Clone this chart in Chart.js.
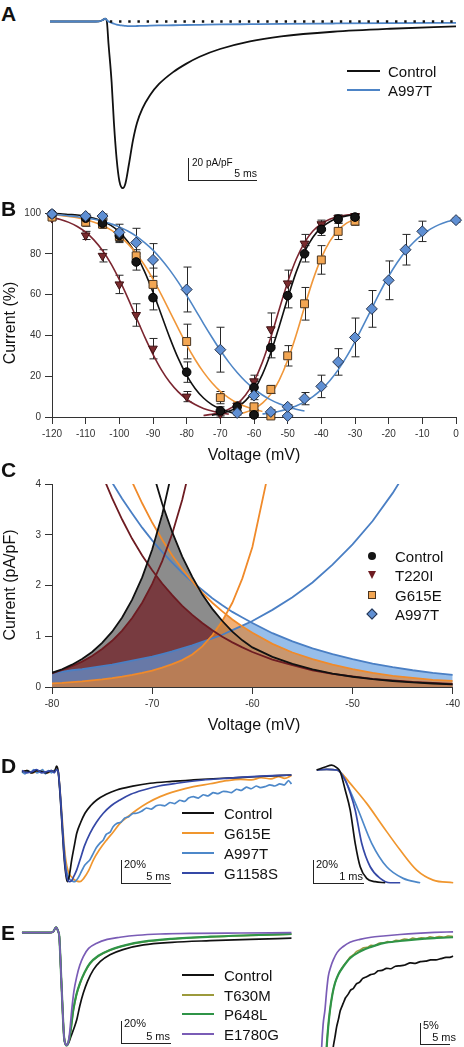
<!DOCTYPE html>
<html>
<head>
<meta charset="utf-8">
<script src="https://cdn.jsdelivr.net/npm/chart.js@4.4.1/dist/chart.umd.min.js"></script>
<style>
  body { margin: 0; background: #fff; }
  #fig { position: relative; width: 464px; height: 1047px; overflow: hidden; font-family: 'Liberation Sans', Arial, sans-serif; color: #111; }
  #fig canvas { position: absolute; }
  .t { position: absolute; white-space: nowrap; line-height: 1; }
  .lc { transform: translateY(-50%); }
  .rc { transform: translate(-100%, -50%); }
  .mid { transform: translate(-50%, -50%); }
  .rot { transform: translate(-50%, -50%) rotate(-90deg); }
  .sb { position: absolute; border-left: 1px solid #222; border-bottom: 1px solid #222; }
  .ln { position: absolute; height: 2px; }
  .mk { position: absolute; }
</style>
</head>
<body>
<div id="fig">
  <canvas id="cA"></canvas>
  <canvas id="cB"></canvas>
  <canvas id="cC"></canvas>
  <canvas id="cD1"></canvas>
  <canvas id="cD2"></canvas>
  <canvas id="cE1"></canvas>
  <canvas id="cE2"></canvas>
</div>
<script>
// ---------- A: current traces (ms, pA/pF) ----------
const tA    = [0,1,2,3,3.6,3.9,4.05,4.17,4.3,4.53,4.7,4.9,5.1,5.35,5.55,5.8,6.1,6.4,6.8,7.35,8,9.05,10,11,12.5,14.7,17,20.8,25,29.85];
const ctlA  = [0,0,0,0,0.2,1.5,2.6,1,-20,-55,-92,-125,-145,-151.5,-147,-130,-108,-92,-79,-67,-57,-46,-38.5,-32,-25,-18,-13.5,-9.3,-6.6,-4.5];
const a9A   = [0,0,0,0,0.2,1.5,2.6,1.5,0,-1.2,-2,-2.8,-3.3,-3.7,-4,-4.2,-4.2,-4.1,-4.0,-3.8,-3.6,-3.4,-3.2,-3,-2.7,-2.4,-2.1,-1.8,-1.5,-1.2];
const zeroA = [4.4, 29.85];

// ---------- B: steady-state inactivation / activation (mV, %) ----------
const ctlV = [-120,-110,-105,-100,-95,-90,-80,-70,-60,-65,-60,-55,-50,-45,-40,-35,-30];
const ctlI = [99.5,97.5,95,89,76,58.5,22,3,1,5,14.5,34,59.5,80,92,97,98];
const ctlE = [0,1.5,2,3,4,6,5,2,1,2,3,5,6,4,3,2,1.5];
const t2V  = [-120,-110,-105,-100,-95,-90,-80,-70,-65,-60,-55,-50,-45,-40,-35,-30];
const t2I  = [97.5,89,79,65,50,33.5,10,1.5,5.5,17.5,43,65.5,85,94.5,97.5,98.5];
const t2E  = [1,2,3,4.5,5.5,5,2.5,1,2,3,8,6.5,4.5,2,1.5,1];
const g6V  = [-120,-110,-105,-100,-95,-90,-80,-70,-60,-55,-60,-55,-50,-45,-40,-35,-30];
const g6I  = [98,95.5,94.5,88.5,79,65,37,9.5,2,0.5,5,13.5,30,55.5,77,91,96];
const g6E  = [1,2,2,3,3,8,8.5,3,1,1,1.5,2,5,8,7,4,2];
const a9V  = [-120,-110,-105,-100,-95,-90,-80,-70,-65,-60,-55,-50,-50,-45,-40,-35,-30,-25,-20,-15,-10,0];
const a9I  = [99.5,98.5,98.5,90.5,85.5,77,62.5,33,2,10.5,2.5,0.5,5,9,15,27,39,53,67,82,91,96.5];
const a9E  = [0.5,1,1,4,7,8,11,11,1,2,1,0.5,1,3,5.5,6.5,9.5,9,9.5,7.5,5,1];

// fitted curves on a 2.5 mV grid, each starting at its *From voltage
const fitV = [-120,-117.5,-115,-112.5,-110,-107.5,-105,-102.5,-100,-97.5,-95,-92.5,-90,-87.5,-85,-82.5,-80,-77.5,-75,-72.5,-70,-67.5,-65,-62.5,-60,-57.5,-55,-52.5,-50,-47.5,-45,-42.5,-40,-37.5,-35,-32.5,-30,-27.5,-25,-22.5,-20,-17.5,-15,-12.5,-10,-7.5,-5,-2.5,0];
const ctlInFrom = -120,  ctlInFit  = [99.7,99.6,99.3,99.0,98.4,97.4,96.0,93.9,90.7,86.0,79.6,71.3,61.2,50.0,38.8,28.7,20.4,14.0,9.3,6.1,4.0,2.6,1.6];
const ctlActFrom = -72.5, ctlActFit = [0.93,1.61,2.78,4.7,8.0,13.1,20.9,31.5,44.5,58.2,70.9,80.9,88.1,92.8,95.7,97.5,98.6,99.2];
const t2InFrom = -120,   t2InFit   = [97.8,96.8,95.4,93.4,90.6,86.7,81.6,75.2,67.3,58.4,48.9,39.4,30.7,23.1,17.0,12.3,8.7,6.1,4.2,2.9,2.0,1.4];
const t2ActFrom = -75,   t2ActFit  = [0.75,1.3,2.2,3.8,6.5,10.8,17.4,26.9,39.1,52.8,66.1,77.2,85.5,91.2,94.7,96.9,98.2,99.0,99.4];
const g6InFrom = -120,   g6InFit   = [99.1,98.8,98.3,97.7,96.8,95.5,93.9,91.7,88.8,85.0,80.2,74.4,67.6,59.9,51.7,43.4,35.4,28.2,22.0,16.8,12.6,9.4,6.9,5.1,3.7,2.7];
const g6ActFrom = -65,   g6ActFit  = [1.35,2.3,4.0,6.8,11.2,18.1,27.8,40.1,53.9,67.1,78.0,86.1,91.5,95.0,97.0];
const a9InFrom = -120,   a9InFit   = [99.2,99.0,98.6,98.2,97.6,96.9,96.0,94.7,93.2,91.2,88.7,85.5,81.8,77.2,72.0,66.1,59.6,52.8,45.8,39.1,32.7,26.9,21.8,17.4,13.8,10.8,8.4,6.5,5.0,3.8,2.9];
const a9ActFrom = -57.5, a9ActFit  = [1.5,2.0,2.8,3.9,5.4,7.4,10.0,13.4,17.8,23.1,29.6,37.0,45.0,53.3,61.5,69.0,75.6,81.3,85.8,89.4,92.2,94.3,95.8,97.0];

// ---------- C: window currents (mV, pA/pF) ----------
const vC = [-80,-79,-78,-77,-76,-75,-74,-73,-72,-71,-70,-69,-68,-67,-66,-65,-64,-63,-62,-61,-60,-58,-56,-54,-52,-50,-48,-46,-44,-42,-40];
const N = null;
const ctlRise = [0.28,0.35,0.44,0.55,0.69,0.87,1.09,1.37,1.72,2.16,2.71,3.40,4.27,5.38,N,N,N,N,N,N,N,N,N,N,N,N,N,N,N,N,N];
const ctlFall = [N,N,N,N,N,N,N,N,N,N,4.28,3.61,3.05,2.57,2.17,1.82,1.54,1.30,1.09,0.92,0.78,0.595,0.454,0.347,0.265,0.202,0.154,0.118,0.09,0.069,0.052];
const t2Rise  = [0.27,0.335,0.41,0.50,0.61,0.75,0.91,1.11,1.36,1.66,2.03,2.48,3.02,3.69,4.51,N,N,N,N,N,N,N,N,N,N,N,N,N,N,N,N];
const t2Fall  = [N,N,N,N,4.74,4.19,3.72,3.30,2.92,2.59,2.30,2.04,1.81,1.60,1.42,1.26,1.12,0.99,0.88,0.78,0.69,0.54,0.43,0.33,0.26,0.21,0.16,0.13,0.10,0.08,0.06];
const g6Rise  = [0.07,0.08,0.095,0.11,0.13,0.15,0.175,0.205,0.24,0.28,0.325,0.38,0.45,0.53,0.64,0.80,1.02,1.30,1.66,2.14,2.76,4.6,N,N,N,N,N,N,N,N,N];
const g6Fall  = [N,N,N,N,N,N,N,4.52,4.04,3.62,3.24,2.90,2.59,2.32,2.08,1.86,1.66,1.49,1.33,1.19,1.07,0.85,0.68,0.55,0.44,0.35,0.28,0.22,0.18,0.14,0.12];
const a9Rise  = [0.28,0.30,0.33,0.35,0.38,0.41,0.44,0.48,0.52,0.56,0.60,0.65,0.70,0.76,0.82,0.89,0.96,1.03,1.12,1.21,1.30,1.52,1.77,2.06,2.41,2.81,3.27,3.82,4.45,N,N];
const a9Fall  = [N,N,N,N,4.77,4.38,4.03,3.71,3.42,3.14,2.89,2.66,2.45,2.25,2.07,1.91,1.75,1.61,1.48,1.37,1.26,1.06,0.90,0.76,0.65,0.55,0.46,0.39,0.33,0.28,0.24];
const namesC  = ['Control','T220I','G615E','A997T'];

// ---------- D: normalised currents (ms, %) ----------
const tDctl = [0.2,0.7,1.2,1.7,2.2,2.7,3.2,3.5,3.74,3.9,4.1,4.3,4.5,4.7,4.83,5.0,5.28,5.55,5.79,6.2,6.63,7.2,7.83,8.8,9.87,11.5,13.27,15.5,17.7,20.2,22.8,25.2,27.7];
const Dctl  = [0,1,-1,1,0,-1,1,0,5,0,-22,-50,-78,-95,-100,-96,-80,-67,-56,-46,-37.8,-31,-25.7,-20.5,-16.6,-13.2,-10.5,-8.8,-7.5,-6.2,-5.1,-4,-3];
const tDg11 = [0.2,0.7,1.2,1.7,2.2,2.7,3.2,3.5,3.74,3.9,4.1,4.3,4.5,4.7,4.9,5.1,5.28,5.5,5.8,6.12,6.6,7.14,7.8,8.5,9.3,10.2,11.3,12.6,14.2,16.0,18.5,21.1,24.2,27.7];
const Dg11  = [1,-1,0,2,-1,0,1,-1,2,0,-20,-48,-75,-92,-99,-100,-99,-95,-89,-80.3,-67,-56,-46,-37.8,-31,-25.7,-20.5,-16.6,-13,-10.5,-7.8,-6,-4.3,-3];
const tDg6  = [0.2,0.7,1.2,1.7,2.2,2.7,3.2,3.5,3.74,3.9,4.1,4.3,4.5,4.7,4.9,5.1,5.3,5.5,5.8,6.12,6.5,7.0,7.48,8.1,8.85,9.5,10.2,11.0,11.9,13.0,14.3,16.0,17.7,19.4,21.1,22.5,23.6,24.6,25.6,26.4,27.0,27.7];
const Dg6   = [0,1,-1,0,1,-1,0,1,2,0,-18,-42,-66,-82,-90,-94,-96,-98,-99.5,-100,-97,-90,-80.3,-71,-62,-55,-47,-41,-34.8,-28.5,-22.7,-17.5,-13.6,-11,-8.2,-7,-7.5,-5.5,-6.5,-4.5,-6,-3.5];
const tDa9  = [0.2,0.5,0.8,1.1,1.4,1.7,2.0,2.3,2.6,2.9,3.2,3.5,3.74,3.9,4.1,4.3,4.5,4.7,4.9,5.1,5.35,5.6,5.9,6.2,6.6,7.14,7.5,7.8,8.16,8.5,8.8,9.2,9.5,9.87,10.3,10.7,11.1,11.5,11.9,12.4,12.9,13.4,13.9,14.3,14.8,15.3,15.8,16.3,16.8,17.2,17.7,18.2,18.7,19.2,19.7,20.2,20.7,21.1,21.6,22.1,22.6,23.1,23.6,24.1,24.5,25.0,25.5,26.0,26.5,27.0,27.4,27.7];
const Da9   = [0,-2,1,-1,2,-1,0,2,-2,1,-1,1,2,0,-19,-45,-70,-88,-95,-98,-99.5,-100,-97,-92,-85,-80,-74,-69,-65,-62,-57,-55,-50,-47,-46,-42,-41,-38,-37.8,-36,-33,-34,-31,-30.3,-31,-28,-29,-26,-27,-24,-22.7,-24,-21,-22,-19,-20,-18,-18.2,-19,-16,-17,-14,-15.5,-13,-14.5,-13.6,-12,-13,-11,-12,-8,-11.2];
// D right: rising phase, 1 ms bar
const tD2ctl = [0,0.17,0.3,0.4,0.47,0.57,0.67,0.77,0.87,1.0,1.17,1.37];
const D2ctl  = [0,2.6,4.3,2,-1.5,-17.4,-34.8,-63.7,-84.1,-94.2,-97.1,-98];
const tD2g11 = [0,0.2,0.4,0.57,0.67,0.77,0.9,1.07,1.27,1.47,1.67];
const D2g11  = [0,0.5,0,-8.7,-20,-34.8,-63.7,-84.1,-94.2,-98,-98];
const tD2a9  = [0,0.2,0.4,0.47,0.6,0.83,1.1,1.4,1.73,2.07];
const D2a9   = [0,0.5,0,-1.5,-11.6,-34.8,-63.7,-84.1,-94.2,-98];
const tD2g6  = [0,0.2,0.4,0.5,0.67,1.0,1.33,1.67,2.0,2.33,2.73];
const D2g6   = [0,0.5,0,-2.9,-11.6,-29,-49.3,-69.6,-87,-95.7,-98];
const namesD  = ['Control','G615E','A997T','G1158S'];
const colorsD = ['#111111','#f0962e','#4d88c9','#3548a6'];

// ---------- E: normalised currents (ms, %) ----------
const tEctl = [0.2,1,2,3,3.4,3.67,3.9,4.01,4.23,4.49,4.65,4.77,4.95,5.2,5.5,5.79,6.1,6.46,6.9,7.48,8.2,9.18,10.5,12.6,15.5,19.4,23.5,27.7];
const Ectl  = [0,0,0,0,1,4.7,1,-3.5,-45,-92,-99,-100,-98,-92,-85,-77.3,-65,-53.6,-43,-33,-25.5,-19.6,-15,-10.9,-8.6,-7.1,-5.9,-4.9];
const tEp6  = [0.2,1,2,3,3.4,3.67,3.9,4.01,4.23,4.49,4.65,4.77,4.95,5.15,5.44,5.75,6.12,6.6,7.14,8.0,9.18,10.8,12.6,15.5,19.4,23.5,27.7];
const Ep6   = [0,0,0,0,1,4.7,1,-3.5,-45,-92,-99,-100,-97,-88,-68.5,-55,-44.8,-35,-27.1,-20.5,-15.3,-11,-8.0,-5.5,-3.6,-2.3,-1.2];
const Et6   = [0,0,0,0,1,4.7,1,-3.5,-45,-92,-99,-100,-97,-88,-69,-55.5,-45,-35.5,-27.5,-20.8,-15.5,-11.2,-8.2,-5.6,-3.7,-2.4,-1.3];
const tEe1  = [0.2,1,2,3,3.4,3.67,3.9,4.01,4.23,4.49,4.65,4.77,4.9,5.05,5.28,5.5,5.79,6.1,6.46,7.0,7.83,8.9,10.2,12.0,14.3,18,22.5,27.7];
const Ee1   = [0,0,0,0,1,4.7,1,-3.5,-45,-92,-99,-100,-98,-90,-68.5,-52,-39,-29,-21.2,-14,-9.4,-6,-4.1,-2.3,-1.2,-0.6,-0.3,0];
// E right: late current, 5% bar
const tE2e1  = [0.3,0.58,0.8,1.09,1.35,1.61,2.0,2.39,3.0,3.95,5.0,6.56,8.3,10.2,12.8,15.4,18.2,21.1];
const E2e1   = [-40,-28.3,-23,-19.5,-15,-11.5,-9.2,-7.6,-5.8,-4.4,-3.4,-2.7,-2.2,-1.9,-1.55,-1.27,-1.05,-0.9];
const tE2p6  = [1.0,1.36,1.6,1.88,2.25,2.66,3.2,3.95,5.0,6.56,8.3,10.2,12.8,15.4,18.2,21.1];
const E2p6   = [-40,-28.3,-23.5,-19.5,-15.8,-13.1,-11,-9.2,-7.2,-5.6,-4.5,-3.6,-3.1,-2.7,-2.4,-2.2];
const tE2t6  = [1.0,1.36,1.6,1.88,2.25,2.66,3.2,3.95,4.5,5.0,5.5,6.0,6.56,7.1,7.7,8.3,8.9,9.5,10.2,10.9,11.5,12.2,12.8,13.5,14.2,14.8,15.4,16.1,16.8,17.5,18.2,18.9,19.6,20.3,21.1];
const E2t6   = [-40,-28.3,-23.5,-19.5,-15.8,-13.1,-11,-9.0,-8.0,-6.9,-6.4,-5.6,-5.2,-4.7,-4.6,-4.1,-4.2,-3.6,-3.6,-3.2,-3.4,-2.9,-3.0,-2.6,-2.8,-2.4,-2.6,-2.3,-2.5,-2.1,-2.3,-2.0,-2.2,-1.9,-2.0];
const tE2ctl = [2.0,2.39,2.65,2.92,3.2,3.5,3.95,4.3,4.7,5.1,5.52,6.0,6.5,7.0,7.6,8.2,8.8,9.4,10.0,10.7,11.4,12.1,12.8,13.6,14.4,15.2,16.0,16.8,17.6,18.4,19.2,20.0,20.6,21.1];
const E2ctl  = [-40,-28.3,-26,-23.5,-21.7,-19.6,-17.9,-16.6,-15.8,-14.8,-14.4,-13.3,-12.9,-12.0,-11.6,-11.1,-10.9,-10.2,-10.1,-9.6,-9.7,-9.1,-9.0,-8.8,-8.3,-8.4,-8.0,-7.9,-7.6,-7.6,-7.3,-7.0,-7.0,-6.7];
const namesE  = ['Control','T630M','P648L','E1780G'];
const colorsE = ['#111111','#9c9a3c','#2f9447','#7a5cb6'];

// ================= drawing =================
const FONT = "'Liberation Sans', Arial, sans-serif";
Chart.defaults.font.family = FONT;
const fig = document.getElementById('fig');

const xy = (xs, ys) => xs.map((x, i) => ({ x, y: ys[i] })).filter(p => p.y !== null);
const seg = (from, ys) => { const i0 = fitV.indexOf(from); return ys.map((y, k) => ({ x: fitV[i0 + k], y })); };

function envelope(vs, a, b) {
  const v = (arr, i) => arr[i] === null ? Infinity : arr[i];
  const out = [];
  for (let i = 0; i < vs.length; i++) {
    const ai = v(a, i), bi = v(b, i);
    out.push({ x: vs[i], y: Math.min(ai, bi) });
    if (i < vs.length - 1) {
      const aj = v(a, i + 1), bj = v(b, i + 1);
      const d0 = ai - bi, d1 = aj - bj;
      if (isFinite(d0) && isFinite(d1) && d0 * d1 < 0) {
        const f = d0 / (d0 - d1);
        out.push({ x: vs[i] + f * (vs[i + 1] - vs[i]), y: ai + f * (aj - ai) });
      }
    }
  }
  return out;
}

function place(id, box) {
  const c = document.getElementById(id);
  c.width = box.w; c.height = box.h;
  c.style.left = box.x + 'px'; c.style.top = box.y + 'px';
  return c;
}

const tr = (data, color, w, extra) => Object.assign({
  data, borderColor: color, borderWidth: w, pointRadius: 0, fill: false,
  cubicInterpolationMode: 'monotone'
}, extra || {});

function traceChart(id, box, xr, yr, datasets) {
  return new Chart(place(id, box), {
    type: 'line',
    data: { datasets },
    options: {
      responsive: false, animation: false, events: [], devicePixelRatio: 1,
      layout: { padding: 0 },
      plugins: { legend: { display: false }, tooltip: { enabled: false } },
      scales: {
        x: { type: 'linear', display: false, min: xr[0], max: xr[1] },
        y: { type: 'linear', display: false, min: yr[0], max: yr[1] }
      }
    }
  });
}

// --- error bars for panel B ---
const errorBars = {
  id: 'errorBars',
  beforeDatasetsDraw(chart) {
    const { ctx, scales: { x, y } } = chart;
    ctx.save(); ctx.strokeStyle = '#262626'; ctx.lineWidth = 1;
    chart.data.datasets.forEach(ds => {
      if (!ds.errors) return;
      ds.data.forEach((p, j) => {
        const e = ds.errors[j]; if (!e) return;
        const px = Math.round(x.getPixelForValue(p.x)) + 0.5;
        const top = y.getPixelForValue(p.y + e), bot = y.getPixelForValue(p.y - e);
        ctx.beginPath();
        ctx.moveTo(px, top); ctx.lineTo(px, bot);
        ctx.moveTo(px - 4, top); ctx.lineTo(px + 4, top);
        ctx.moveTo(px - 4, bot); ctx.lineTo(px + 4, bot);
        ctx.stroke();
      });
    });
    ctx.restore();
  }
};

const axisX = (min, max, step, h) => ({
  type: 'linear', min, max,
  afterFit: s => { s.height = h; },
  ticks: { stepSize: step, color: '#333', font: { size: 10 }, padding: 4, maxRotation: 0, autoSkip: false },
  grid: { drawOnChartArea: false, drawTicks: true, tickLength: 7, color: '#333', lineWidth: 1 },
  border: { color: '#333', width: 1 }
});
const axisY = (min, max, step) => ({
  type: 'linear', min, max,
  afterFit: s => { s.width = 52; },
  ticks: { stepSize: step, color: '#333', font: { size: 10 }, padding: 4 },
  grid: { drawOnChartArea: false, drawTicks: true, tickLength: 7, color: '#333', lineWidth: 1 },
  border: { color: '#333', width: 1 }
});

// ---------- A ----------
traceChart('cA', { x: 50, y: 16, w: 406, h: 176 }, [0, 29.85], [-155, 5], [
  tr(zeroA.map(t => ({ x: t, y: 0 })), '#111', 2.4, { borderDash: [2.4, 6.8], cubicInterpolationMode: 'default', tension: 0 }),
  tr(xy(tA, a9A), '#4d84c6', 1.8),
  tr(xy(tA, ctlA), '#111', 1.8)
]);

// ---------- B ----------
const mk = (V, I, E, style, rad, bg, bd, rot) => ({
  data: xy(V, I), errors: E, showLine: false, clip: false, order: 0,
  pointStyle: style, pointRadius: rad, pointRotation: rot || 0,
  pointBackgroundColor: bg, pointBorderColor: bd, pointBorderWidth: 1
});
const fit = (data, color) => ({ data, borderColor: color, borderWidth: 1.6, pointRadius: 0, fill: false, cubicInterpolationMode: 'monotone', order: 1, clip: false });
new Chart(place('cB', { x: 0, y: 190, w: 464, h: 260 }), {
  type: 'line',
  data: { datasets: [
    mk(a9V, a9I, a9E, 'rectRot', 5.5, '#5f8fd3', '#27344d'),
    mk(ctlV, ctlI, ctlE, 'circle', 4.3, '#151515', '#000'),
    mk(g6V, g6I, g6E, 'rect', 5.6, '#f3a652', '#4a3520'),
    mk(t2V, t2I, t2E, 'triangle', 5, '#7a2b2e', '#3d1214', 180),
    fit(seg(a9InFrom, a9InFit), '#4f86c6'), fit(seg(a9ActFrom, a9ActFit), '#4f86c6'),
    fit(seg(g6InFrom, g6InFit), '#f0973a'), fit(seg(g6ActFrom, g6ActFit), '#f0973a'),
    fit(seg(ctlInFrom, ctlInFit), '#111'),  fit(seg(ctlActFrom, ctlActFit), '#111'),
    fit(seg(t2InFrom, t2InFit), '#7b2630'), fit(seg(t2ActFrom, t2ActFit), '#7b2630')
  ] },
  options: {
    responsive: false, animation: false, events: [], devicePixelRatio: 1,
    layout: { padding: { top: 23, right: 8, left: 0, bottom: 0 } },
    plugins: { legend: { display: false }, tooltip: { enabled: false } },
    scales: { x: axisX(-120, 0, 10, 33), y: axisY(0, 100, 20) }
  },
  plugins: [errorBars]
});

// ---------- C ----------
const cLine = (vals, color) => ({ data: xy(vC, vals), borderColor: color, borderWidth: 1.8, pointRadius: 0, fill: false, tension: 0, order: 0 });
const cFill = (a, b, color, order) => ({ data: envelope(vC, a, b), backgroundColor: color, borderWidth: 0, pointRadius: 0, fill: 'origin', tension: 0, order });
new Chart(place('cC', { x: 0, y: 465, w: 464, h: 250 }), {
  type: 'line',
  data: { datasets: [
    cLine(ctlRise, '#111'), cLine(ctlFall, '#111'),
    cLine(t2Rise, '#6e1c22'), cLine(t2Fall, '#6e1c22'),
    cLine(g6Rise, '#f08a2a'), cLine(g6Fall, '#f08a2a'),
    cLine(a9Rise, '#4a7fc4'), cLine(a9Fall, '#4a7fc4'),
    cFill(g6Rise, g6Fall, 'rgba(232,128,36,0.62)', 1),
    cFill(a9Rise, a9Fall, 'rgba(95,155,222,0.65)', 2),
    cFill(t2Rise, t2Fall, 'rgba(112,28,34,0.72)', 3),
    cFill(ctlRise, ctlFall, 'rgba(95,95,95,0.72)', 4)
  ] },
  options: {
    responsive: false, animation: false, events: [], devicePixelRatio: 1,
    layout: { padding: { top: 19, right: 8, left: 0, bottom: 0 } },
    plugins: { legend: { display: false }, tooltip: { enabled: false } },
    scales: { x: axisX(-80, -40, 10, 28), y: axisY(0, 4, 1) }
  }
});

// ---------- D ----------
traceChart('cD1', { x: 20, y: 762, w: 274, h: 122 }, [0, 27.96], [-102.1, 8.8], [
  tr(xy(tDg11, Dg11), colorsD[3], 1.7),
  tr(xy(tDctl, Dctl), colorsD[0], 1.7),
  tr(xy(tDa9, Da9), colorsD[2], 1.7, { cubicInterpolationMode: 'default', tension: 0.2 }),
  tr(xy(tDg6, Dg6), colorsD[1], 1.7)
]);
traceChart('cD2', { x: 316, y: 762, w: 140, h: 122 }, [-0.014, 2.786], [-99.1, 6.96], [
  tr(xy(tD2ctl, D2ctl), colorsD[0], 1.7),
  tr(xy(tD2g11, D2g11), colorsD[3], 1.7),
  tr(xy(tD2a9, D2a9), colorsD[2], 1.7),
  tr(xy(tD2g6, D2g6), colorsD[1], 1.7)
]);

// ---------- E ----------
traceChart('cE1', { x: 20, y: 918, w: 274, h: 129 }, [0, 27.96], [-101.4, 13.0], [
  tr(xy(tEe1, Ee1), colorsE[3], 1.7),
  tr(xy(tEp6, Ep6), colorsE[2], 2.2),
  tr(xy(tEp6, Et6), colorsE[1], 1.7),
  tr(xy(tEctl, Ectl), colorsE[0], 1.7)
]);
traceChart('cE2', { x: 316, y: 918, w: 140, h: 129 }, [-0.31, 21.56], [-28.33, 2.38], [
  tr(xy(tE2e1, E2e1), colorsE[3], 1.7),
  tr(xy(tE2p6, E2p6), colorsE[2], 2.2),
  tr(xy(tE2t6, E2t6), colorsE[1], 1.5, { cubicInterpolationMode: 'default', tension: 0.2 }),
  tr(xy(tE2ctl, E2ctl), colorsE[0], 1.7, { cubicInterpolationMode: 'default', tension: 0.2 })
]);

// ---------- text, legends, scale bars ----------
function txt(s, x, y, cls, size, extra) {
  const d = document.createElement('div');
  d.className = 't ' + cls; d.textContent = s;
  d.style.left = x + 'px'; d.style.top = y + 'px'; d.style.fontSize = size + 'px';
  if (extra) d.style.cssText += extra;
  fig.appendChild(d);
}
function bar(x, y, w, h) {
  const d = document.createElement('div'); d.className = 'sb';
  Object.assign(d.style, { left: x + 'px', top: y + 'px', width: w + 'px', height: h + 'px' });
  fig.appendChild(d);
}
function lineLegend(names, colors, x0, x1, tx, rows) {
  names.forEach((n, i) => {
    const l = document.createElement('div'); l.className = 'ln';
    Object.assign(l.style, { left: x0 + 'px', top: (rows[i] - 1) + 'px', width: (x1 - x0) + 'px', background: colors[i] });
    fig.appendChild(l);
    txt(n, tx, rows[i], 'lc', 15);
  });
}

// panel letters
[['A', 12.5], ['B', 207.5], ['C', 468.5], ['D', 765], ['E', 931.5]].forEach(([s, y]) => txt(s, 1, y, 'lc', 21, 'font-weight:bold;'));

// A
lineLegend(['Control', 'A997T'], ['#111', '#4d84c6'], 347, 380, 388, [71, 90]);
bar(188, 158, 68, 22);
txt('20 pA/pF', 192, 163, 'lc', 10);
txt('5 ms', 257, 173, 'rc', 10.5);

// B, C axis titles
txt('Current (%)', 10, 323, 'rot', 16);
txt('Voltage (mV)', 254, 455, 'mid', 16);
txt('Current (pA/pF)', 10, 585, 'rot', 16);
txt('Voltage (mV)', 254, 725, 'mid', 16);

// C legend (markers)
const rowsC = [556, 575, 595, 614];
const shapeC = [
  'width:8px;height:8px;border-radius:50%;background:#151515;transform:translate(-50%,-50%);',
  'width:0;height:0;border-left:4.5px solid transparent;border-right:4.5px solid transparent;border-top:8px solid #6e1c22;transform:translate(-50%,-50%);',
  'width:6px;height:6px;background:#f3a652;border:1px solid #4a3520;transform:translate(-50%,-50%);',
  'width:6px;height:6px;background:#5f8fd3;border:1px solid #27344d;transform:translate(-50%,-50%) rotate(45deg);'
];
namesC.forEach((n, i) => {
  const m = document.createElement('div'); m.className = 'mk';
  m.style.cssText += 'left:372px;top:' + rowsC[i] + 'px;' + shapeC[i];
  fig.appendChild(m);
  txt(n, 395, rowsC[i], 'lc', 15);
});

// D
lineLegend(namesD, colorsD, 182, 214, 224, [813, 833, 853, 873]);
bar(121, 860, 49, 23);
txt('20%', 124, 864, 'lc', 11);
txt('5 ms', 170, 876, 'rc', 11);
bar(313, 860, 50, 23);
txt('20%', 316, 864, 'lc', 11);
txt('1 ms', 363, 876, 'rc', 11);

// E
lineLegend(namesE, colorsE, 182, 214, 224, [975, 995, 1014, 1034]);
bar(121, 1021, 49, 22);
txt('20%', 124, 1023, 'lc', 11);
txt('5 ms', 170, 1036, 'rc', 11);
bar(420, 1023, 29, 21);
txt('5%', 423, 1025, 'lc', 11);
txt('5 ms', 456, 1037, 'rc', 11);
</script>
</body>
</html>
